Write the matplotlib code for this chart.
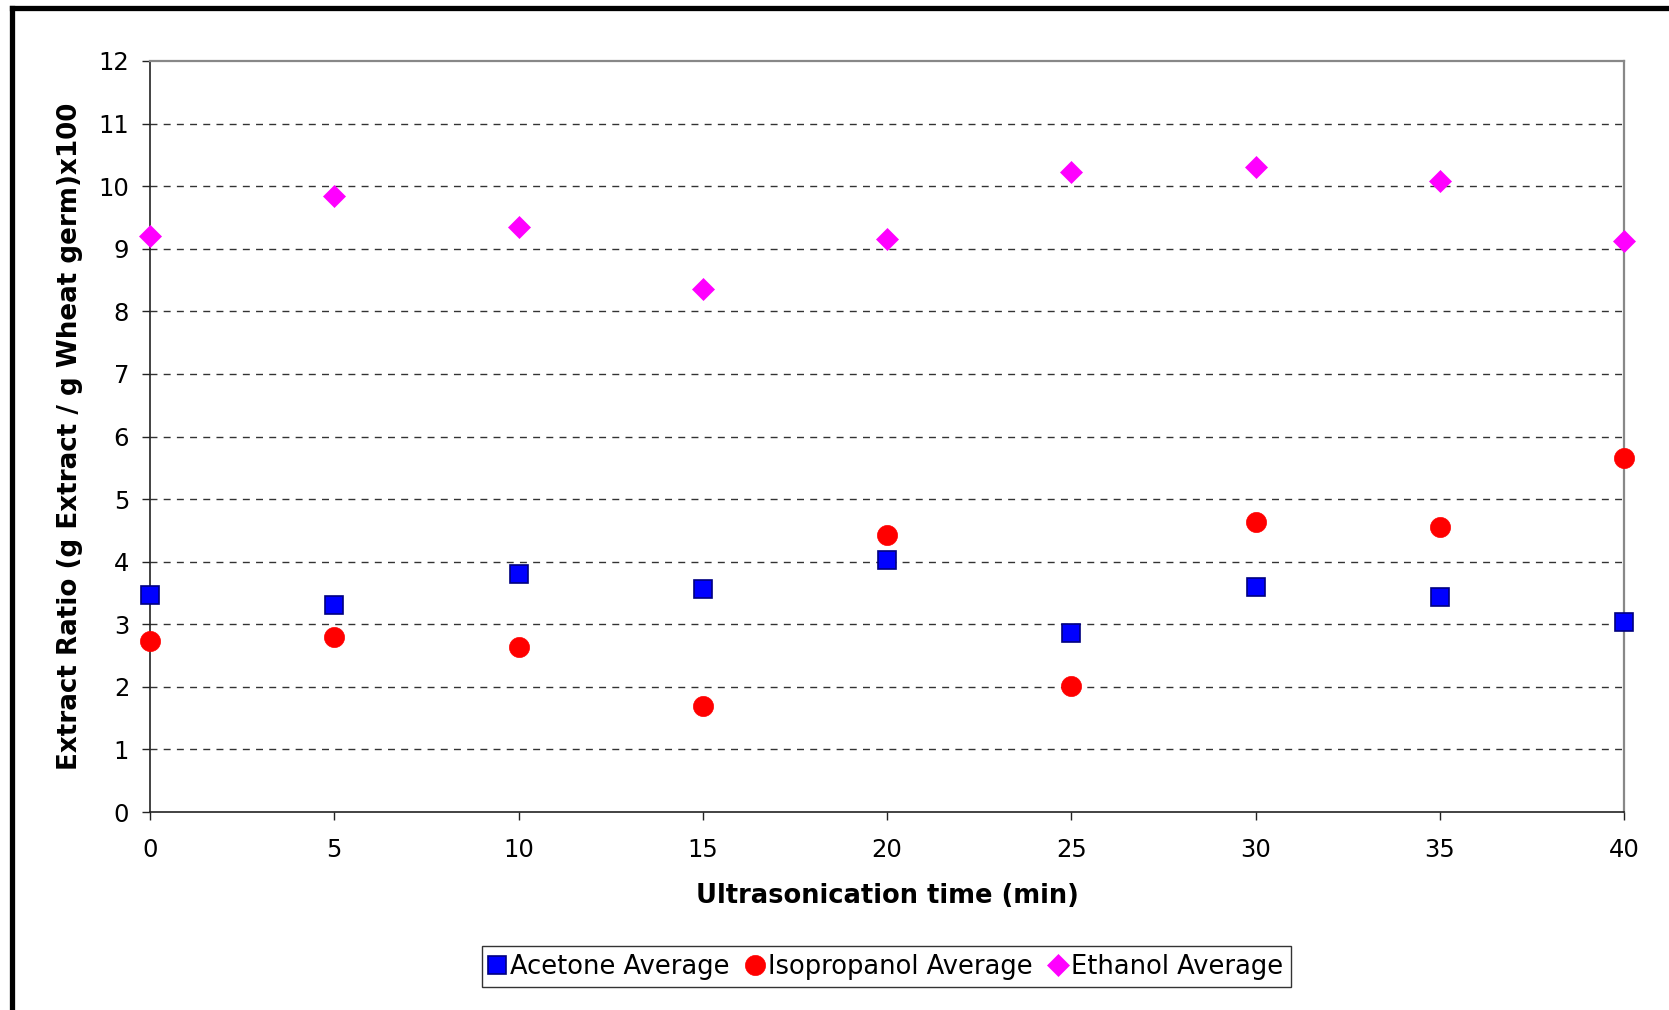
import matplotlib
matplotlib.use("Agg")
import matplotlib.pyplot as plt
from matplotlib.lines import Line2D

plt.rcParams['font.family'] = ['DejaVu Sans']

times = [0, 5, 10, 15, 20, 25, 30, 35, 40]
acetone = [3.46, 3.30, 3.81, 3.57, 4.03, 2.86, 3.59, 3.43, 3.03]
isopropanol = [2.73, 2.79, 2.63, 1.70, 4.42, 2.02, 4.64, 4.55, 5.66]
ethanol = [9.20, 9.84, 9.35, 8.36, 9.16, 10.22, 10.30, 10.08, 9.13]
series_names = ["Acetone Average", "Isopropanol Average", "Ethanol Average"]
x_ticks = [0, 5, 10, 15, 20, 25, 30, 35, 40]
y_ticks = list(range(0, 13))

W, H = 1669, 1010
fig = plt.figure(figsize=(W / 100, H / 100), dpi=100)
fig.patch.set_facecolor("white")

# outer thick frame (left and top edges visible)
fig.add_artist(Line2D([11.5 / W, 11.5 / W], [0, 1 - 7.5 / H], transform=fig.transFigure,
                      color="black", lw=3.8, solid_capstyle="projecting"))
fig.add_artist(Line2D([11.5 / W, 1], [1 - 7.5 / H, 1 - 7.5 / H], transform=fig.transFigure,
                      color="black", lw=3.8, solid_capstyle="projecting"))

L, R, T, B = 150, 1624, 61, 812
ax = fig.add_axes([L / W, (H - B) / H, (R - L) / W, (B - T) / H])

ax.plot(times, acetone, linestyle="none", marker="s", markersize=13,
        markerfacecolor="#0000FF", markeredgecolor="#000080", markeredgewidth=1.2,
        clip_on=False, zorder=5, label=series_names[0])
ax.plot(times, isopropanol, linestyle="none", marker="o", markersize=14.5,
        markerfacecolor="#FF0000", markeredgecolor="#FF0000", markeredgewidth=0.5,
        clip_on=False, zorder=5, label=series_names[1])
ax.plot(times, ethanol, linestyle="none", marker="D", markersize=11.5,
        markerfacecolor="#FF00FF", markeredgecolor="#FF00FF", markeredgewidth=0.5,
        clip_on=False, zorder=5, label=series_names[2])

ax.set_xlim(0, 40)
ax.set_ylim(0, 12)
ax.set_xticks(x_ticks)
ax.set_yticks(y_ticks)

for y in y_ticks[1:-1]:
    ax.axhline(y, color="#333333", lw=1.0, linestyle=(0, (5, 4.5)), zorder=1)

ax.spines["top"].set_color("#888888")
ax.spines["right"].set_color("#888888")
ax.spines["top"].set_linewidth(1.6)
ax.spines["right"].set_linewidth(1.6)
ax.spines["left"].set_color("#222222")
ax.spines["bottom"].set_color("#222222")
ax.spines["left"].set_linewidth(1.2)
ax.spines["bottom"].set_linewidth(1.2)

ax.tick_params(axis="y", direction="out", length=6, width=1.0, pad=9,
               labelsize=17.5, colors="#222222", labelcolor="black")
ax.tick_params(axis="x", direction="out", length=6, width=1.0, pad=13,
               labelsize=17.5, colors="#222222", labelcolor="black")

ax.set_xlabel("Ultrasonication time (min)", fontsize=18.5, fontweight="bold")
ax.xaxis.label.set_va("center")
ax.xaxis.set_label_coords(0.5, (B - 896) / (B - T))
ax.set_ylabel("Extract Ratio (g Extract / g Wheat germ)x100", fontsize=18.8, fontweight="bold")
ax.yaxis.label.set_va("center")
ax.yaxis.set_label_coords((70 - L) / (R - L), 0.5)

leg = fig.legend(loc="center", bbox_to_anchor=(886.5 / W, 1 - 966.5 / H),
                 ncol=3, fontsize=18.5, frameon=True, fancybox=False,
                 handlelength=0.6, handletextpad=0.2, columnspacing=0.7,
                 borderpad=0.3, borderaxespad=0)
leg.get_frame().set_edgecolor("black")
leg.get_frame().set_linewidth(1.0)

fig.savefig("out.png", dpi=100, facecolor="white")
